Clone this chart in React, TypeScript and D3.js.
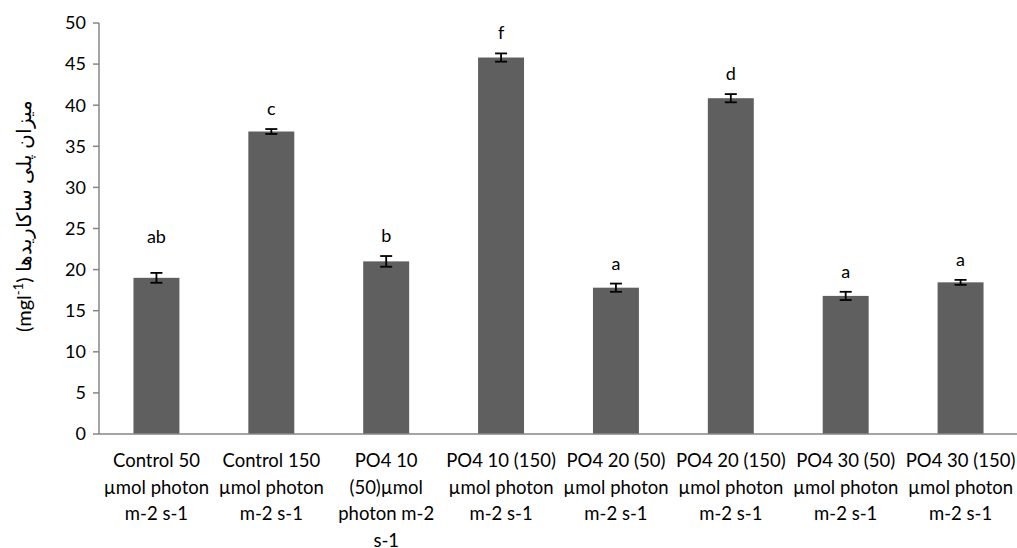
import React from "react";
import * as d3 from "d3";

const categories: string[][] = [
  ["Control 50", "µmol photon", "m-2 s-1"],
  ["Control 150", "µmol photon", "m-2 s-1"],
  ["PO4 10", "(50)µmol", "photon m-2", "s-1"],
  ["PO4 10 (150)", "µmol photon", "m-2 s-1"],
  ["PO4 20 (50)", "µmol photon", "m-2 s-1"],
  ["PO4 20 (150)", "µmol photon", "m-2 s-1"],
  ["PO4 30 (50)", "µmol photon", "m-2 s-1"],
  ["PO4 30 (150)", "µmol photon", "m-2 s-1"],
];
const values = [19.0, 36.8, 21.0, 45.8, 17.8, 40.85, 16.8, 18.45];
const errors = [0.6, 0.3, 0.65, 0.5, 0.5, 0.5, 0.5, 0.3];
const letters = ["ab", "c", "b", "f", "a", "d", "a", "a"];
const yTicks = [0, 5, 10, 15, 20, 25, 30, 35, 40, 45, 50];

const W = 1017;
const H = 548;
const margin = { top: 23, right: -1, bottom: 114, left: 99 };
const font = "Lato, 'Open Sans', sans-serif";

export default function App() {
  const innerH = H - margin.top - margin.bottom;
  const x = d3
    .scaleBand<number>()
    .domain(d3.range(categories.length))
    .range([margin.left, W - margin.right])
    .paddingInner(0.6)
    .paddingOuter(0.3);
  const y = d3.scaleLinear().domain([0, 50]).range([margin.top + innerH, margin.top]);
  const axisColor = "#868686";
  const x0 = margin.left;
  const y0 = y(0);

  return (
    <svg
      width={W}
      height={H}
      style={{ position: "absolute", left: 0, top: 0, background: "#fff" }}
      fontFamily={font}
    >
      {/* y axis */}
      <line x1={x0} x2={x0} y1={y(50)} y2={y0} stroke={axisColor} strokeWidth={1.5} />
      {yTicks.map((t) => (
        <g key={t}>
          <line x1={x0 - 6} x2={x0} y1={y(t)} y2={y(t)} stroke={axisColor} strokeWidth={1.5} />
          <text x={x0 - 13} y={y(t)} dy="0.35em" textAnchor="end" fontSize={18} fill="#000">
            {t}
          </text>
        </g>
      ))}

      {/* bars */}
      {values.map((v, i) => {
        const bx = x(i)!;
        const bw = x.bandwidth();
        const cx = bx + bw / 2;
        const top = y(v + errors[i]);
        const bot = y(v - errors[i]);
        const gap = i === 0 ? 30 : 14;
        return (
          <g key={i}>
            <rect x={bx} y={y(v)} width={bw} height={y0 - y(v)} fill="#5f5f5f" />
            <line x1={cx} x2={cx} y1={top} y2={bot} stroke="#000" strokeWidth={1.8} />
            <line x1={cx - 6} x2={cx + 6} y1={top} y2={top} stroke="#000" strokeWidth={1.8} />
            <line x1={cx - 6} x2={cx + 6} y1={bot} y2={bot} stroke="#000" strokeWidth={1.8} />
            <text x={cx} y={top - gap} textAnchor="middle" fontSize={18} fill="#000">
              {letters[i]}
            </text>
          </g>
        );
      })}

      {/* x axis */}
      <line x1={x0} x2={W} y1={y0} y2={y0} stroke={axisColor} strokeWidth={1.5} />
      {categories.map((lines, i) => {
        const cx = x(i)! + x.bandwidth() / 2;
        return (
          <text key={i} x={cx} textAnchor="middle" fontSize={18.5} fill="#000">
            {lines.map((l, j) => (
              <tspan key={j} x={cx} y={467 + j * 26.5}>
                {l}
              </tspan>
            ))}
          </text>
        );
      })}

      {/* y axis title */}
      <text
        transform={`translate(24, 216) rotate(-90)`}
        textAnchor="middle"
        fontSize={20}
        fill="#000"
        dy="0.35em"
      >
        (mgl<tspan dy="-8" fontSize={13}>-1</tspan>
        <tspan dy="8">) میزان پلی ساکاریدها</tspan>
      </text>
    </svg>
  );
}
